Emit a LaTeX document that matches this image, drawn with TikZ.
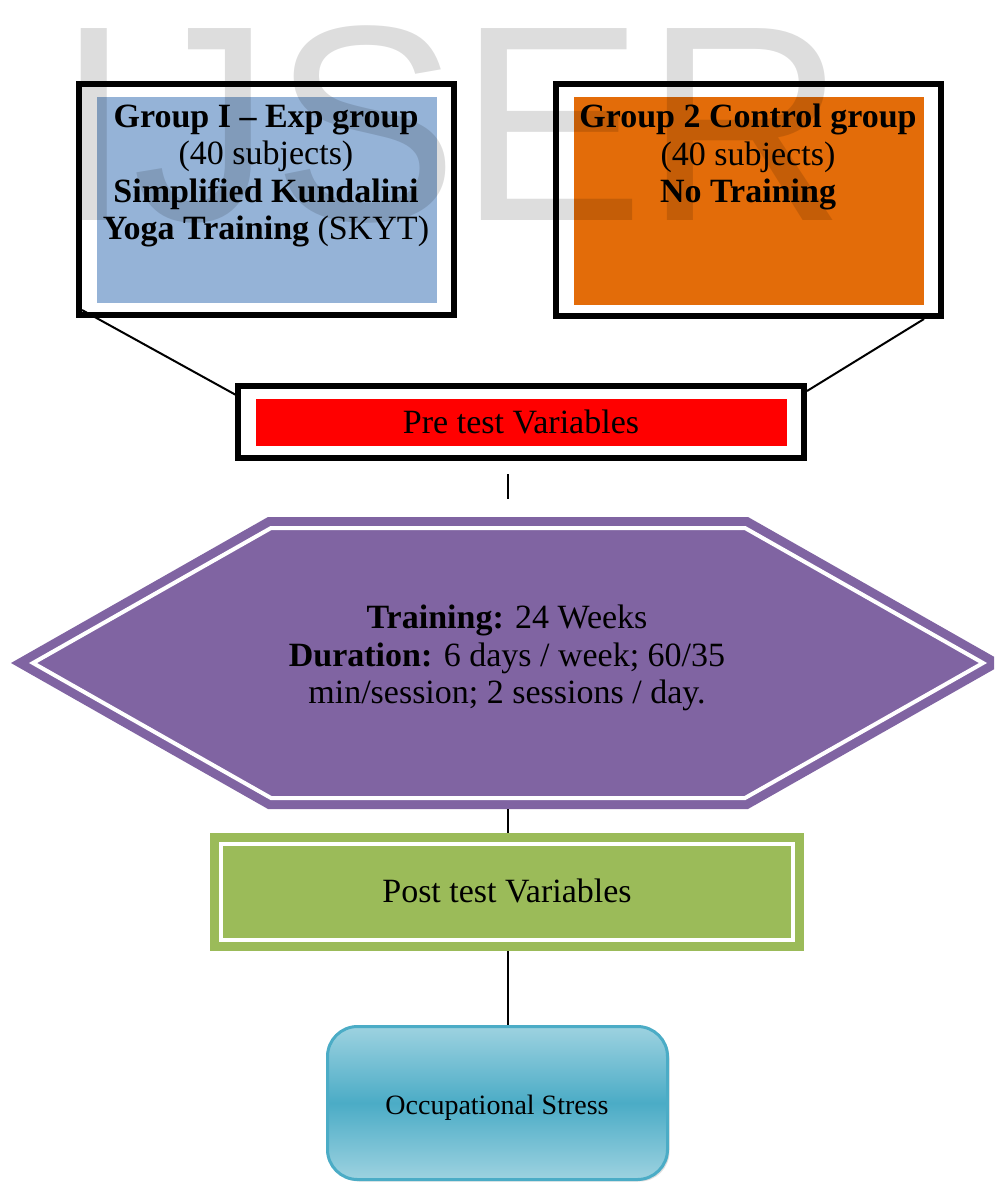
\documentclass[tikz,border=0pt]{standalone}
\usepackage{fontspec}
\setmainfont{Liberation Serif}
\newfontfamily\wmfont{Liberation Sans}
\usetikzlibrary{shadows,calc}
\definecolor{gblue}{HTML}{95B3D7}
\definecolor{gorange}{HTML}{E36C09}
\definecolor{gred}{HTML}{FF0000}
\definecolor{gpurple}{HTML}{8064A2}
\definecolor{ggreen}{HTML}{9BBB59}
\definecolor{gteal}{HTML}{4BACC6}
\definecolor{glteal}{HTML}{9DD2E0}
\tikzset{
  frame/.style={draw=black, line width=6pt, inner sep=0pt},
  btext/.style={font=\fontsize{34}{37.5}\selectfont, align=center, inner sep=0pt},
  link/.style={draw=black, line width=2pt},
  hexfill/.style={fill=gpurple},
  hexline/.style={draw=white, line width=4pt, line join=miter},
  postbox/.style={fill=ggreen, draw=none, inner sep=0pt},
  postline/.style={draw=white, line width=4pt},
  occbox/.style={draw=gteal, line width=3pt, rounded corners=30pt, top color=glteal, bottom color=glteal, middle color=gteal,
     drop shadow={opacity=0.25, shadow xshift=2pt, shadow yshift=-2pt}, inner sep=0pt},
  occtext/.style={font=\fontsize{28}{32}\selectfont, inner sep=0pt},
  watermark/.style={font=\fontsize{279}{279}\wmfont, text=black, text opacity=0.134, inner sep=0pt, anchor=base west}
}
\begin{document}
\begin{tikzpicture}[x=1pt,y=-1pt]
\clip (0,0) rectangle (994,1182);
\fill[white] (0,0) rectangle (994,1182);

% Group I
\fill[gblue] (97,97) rectangle (437,303);
\node[frame, minimum width=375, minimum height=231] (g1) at (266.5,199.5) {};
\node[btext] (g1t) at (266,176) {\textbf{Group I – Exp group}\\(40 subjects)\\\textbf{Simplified Kundalini}\\\textbf{Yoga Training} (SKYT)};

% Group 2
\fill[gorange] (574,97) rectangle (924,305);
\node[frame, minimum width=385, minimum height=232] (g2) at (748.5,200) {};
\node[btext] (g2t) at (748,157) {\textbf{Group 2 Control group}\\(40 subjects)\\\textbf{No Training}};

% Pre test
\fill[gred] (256,399) rectangle (787,446);
\node[frame, minimum width=566, minimum height=72, btext] (pre) at (521,422) {Pre test Variables};

% connectors from the groups to the pre test
\draw[link] ([shift={(6,-8)}]g1.south west) -- ([shift={(1,12)}]pre.north west);
\draw[link] ([shift={(-20,0)}]g2.south east) -- ([shift={(0,8)}]pre.north east);

% short free segment
\coordinate (s1) at (508,474);
\coordinate (s2) at (508,499);
\draw[line width=1.5pt] (s1) -- (s2);

% hexagon
\fill[hexfill] (11,663) -- (268,517) -- (748,517) -- (1005,663) -- (748,809) -- (268,809) -- cycle;
\draw[hexline] (33,663) -- (271,528) -- (745,528) -- (983,663) -- (745,798) -- (271,798) -- cycle;
\coordinate (hexb) at (508,809);
\node[btext] (hext) at (507,658) {\textbf{Training:} 24 Weeks\\\textbf{Duration:} 6 days / week; 60/35\\min/session; 2 sessions / day.};

% post test
\node[postbox, minimum width=594, minimum height=118] (post) at (507,892) {};
\draw[postline] ([shift={(11,11)}]post.north west) rectangle ([shift={(-11,-11)}]post.south east);
\node[btext] (postt) at (507,891) {Post test Variables};
\draw[line width=1.5pt] (hexb) -- (hexb |- post.north);

% occupational stress
\node[occbox, minimum width=340, minimum height=153] (occ) at (497.5,1103) {};
\node[occtext] (occt) at (497,1108) {Occupational Stress};
\draw[line width=1.5pt] (post.south -| hexb) -- (hexb |- occ.north);

% watermark
\node[watermark] (wm) at (55,221) {IJSER};
\end{tikzpicture}
\end{document}
